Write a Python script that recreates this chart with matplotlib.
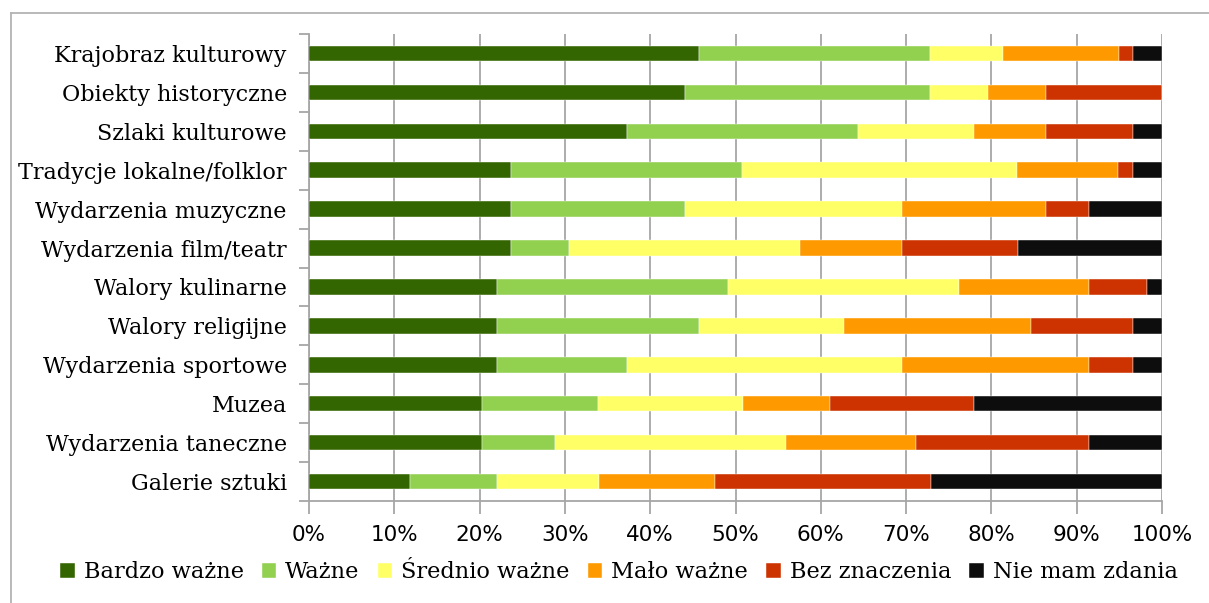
import matplotlib
matplotlib.use('Agg')
import matplotlib.pyplot as plt
from matplotlib.lines import Line2D
import numpy as np

# categories top to bottom
CATEGORIES = ['Krajobraz kulturowy', 'Obiekty historyczne', 'Szlaki kulturowe',
              'Tradycje lokalne/folklor', 'Wydarzenia muzyczne', 'Wydarzenia film/teatr',
              'Walory kulinarne', 'Walory religijne', 'Wydarzenia sportowe',
              'Muzea', 'Wydarzenia taneczne', 'Galerie sztuki']

SERIES = ['Bardzo ważne', 'Ważne', 'Średnio ważne', 'Mało ważne', 'Bez znaczenia', 'Nie mam zdania']
COLORS = ['#336600', '#92D050', '#FFFF66', '#FF9900', '#CC3300', '#0D0D0D']

# shares in %
bardzo_wazne = [45.8, 44.1, 37.3, 23.7, 23.7, 23.7, 22.0, 22.0, 22.0, 20.3, 20.3, 11.9]
wazne = [27.1, 28.8, 27.1, 27.1, 20.3, 6.8, 27.1, 23.7, 15.3, 13.6, 8.5, 10.2]
srednio_wazne = [8.5, 6.8, 13.6, 32.2, 25.4, 27.1, 27.1, 16.9, 32.2, 16.9, 27.1, 11.9]
malo_wazne = [13.6, 6.8, 8.5, 11.9, 16.9, 11.9, 15.3, 22.0, 22.0, 10.2, 15.3, 13.6]
bez_znaczenia = [1.7, 13.6, 10.2, 1.7, 5.1, 13.6, 6.8, 11.9, 5.1, 16.9, 20.3, 25.4]
nie_mam_zdania = [3.4, 0.0, 3.4, 3.4, 8.5, 16.9, 1.7, 3.4, 3.4, 22.0, 8.5, 27.1]

XTICKS = [0, 10, 20, 30, 40, 50, 60, 70, 80, 90, 100]

SERIF = ['DejaVu Serif']
GRID = '#a6a6a6'


def main():
    data = [bardzo_wazne, wazne, srednio_wazne, malo_wazne, bez_znaczenia, nie_mam_zdania]
    data = np.array(data, dtype=float)
    data = data / data.sum(axis=0) * 100.0

    fig = plt.figure(figsize=(12.09, 6.03), dpi=100)
    ax = fig.add_axes([309 / 1209., 1 - 501 / 603., 853 / 1209., 467 / 603.])

    y = np.arange(len(CATEGORIES))
    left = np.zeros(len(CATEGORIES))
    for i, name in enumerate(SERIES):
        ax.barh(y, data[i], left=left, height=0.4, color=COLORS[i], label=name,
                edgecolor='white', linewidth=0.3, zorder=3)
        left += data[i]

    ax.set_ylim(len(CATEGORIES) - 0.5, -0.5)
    ax.set_xlim(0, 100)
    ax.set_yticks(y)
    ax.set_yticklabels(CATEGORIES, family=SERIF, fontsize=16)
    ax.set_yticks(np.arange(len(CATEGORIES) + 1) - 0.5, minor=True)
    ax.tick_params(axis='y', which='major', length=0, pad=16)
    ax.tick_params(axis='y', which='minor', length=7, color=GRID, width=1.3)
    ax.set_xticks(XTICKS)
    ax.set_xticklabels(['%d%%' % t for t in XTICKS], fontsize=15.5)
    ax.tick_params(axis='x', length=9, color=GRID, width=1.3, pad=8)

    ax.grid(axis='x', color=GRID, linewidth=1.3, zorder=0)
    for s in ['top', 'right']:
        ax.spines[s].set_visible(False)
    for s in ['left', 'bottom']:
        ax.spines[s].set_color(GRID)
        ax.spines[s].set_linewidth(1.3)

    fig.legend(loc='center', bbox_to_anchor=(619 / 1209., 1 - 572 / 603.), ncol=6,
               frameon=False, prop={'family': SERIF, 'size': 16.2},
               handlelength=0.65, handleheight=0.65, handletextpad=0.4,
               columnspacing=0.8, borderaxespad=0)

    # outer chart frame (only left and top edges are visible)
    fig.add_artist(Line2D([11 / 1209., 11 / 1209.], [0, 1 - 13 / 603.],
                          transform=fig.transFigure, color='#b3b3b3', linewidth=1.3))
    fig.add_artist(Line2D([11 / 1209., 1], [1 - 13 / 603., 1 - 13 / 603.],
                          transform=fig.transFigure, color='#b3b3b3', linewidth=1.3))

    fig.savefig('out.png', dpi=100)


if __name__ == '__main__':
    main()
